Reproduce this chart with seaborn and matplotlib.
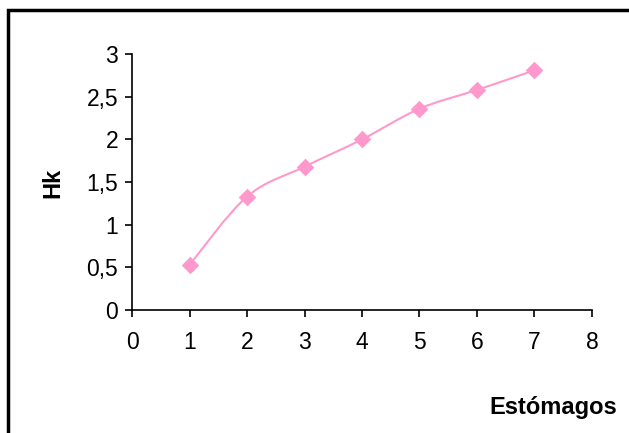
import matplotlib
matplotlib.use("Agg")
import matplotlib.pyplot as plt
from matplotlib.path import Path
from matplotlib.patches import PathPatch, Rectangle
from matplotlib.ticker import FuncFormatter
import numpy as np
import pandas as pd
import seaborn as sns

# datos
estomagos = [1, 2, 3, 4, 5, 6, 7]
hk = [0.53, 1.33, 1.68, 2.00, 2.36, 2.58, 2.81]

x_ticks = [0, 1, 2, 3, 4, 5, 6, 7, 8]
y_ticks = [0, 0.5, 1, 1.5, 2, 2.5, 3]

ROSA = "#FF99CC"

sns.set_theme(style="white")
plt.rcParams["font.family"] = ["Liberation Sans", "DejaVu Sans"]
plt.rcParams["text.color"] = "black"

df = pd.DataFrame({"Estómagos": estomagos, "Hk": hk})

fig = plt.figure(figsize=(6.29, 4.33), dpi=100)
ax = fig.add_axes([0.21, 0.284, 0.731, 0.591])

# línea suavizada (bezier tipo Excel) que pasa por los puntos
pts = np.column_stack([estomagos, hk]).astype(float)
ext = np.vstack([pts[0], pts, pts[-1]])
verts = [tuple(pts[0])]
codes = [Path.MOVETO]
for i in range(1, len(ext) - 2):
    p0, p1, p2, p3 = ext[i - 1], ext[i], ext[i + 1], ext[i + 2]
    c1 = p1 + (p2 - p0) / 6
    c2 = p2 - (p3 - p1) / 6
    verts += [tuple(c1), tuple(c2), tuple(p2)]
    codes += [Path.CURVE4] * 3
ax.add_patch(PathPatch(Path(verts, codes), fill=False, edgecolor=ROSA, lw=1.5, zorder=2))

sns.scatterplot(data=df, x="Estómagos", y="Hk", marker="D", s=80, color=ROSA,
                edgecolor=ROSA, linewidth=0, ax=ax, zorder=3)

ax.set_xlim(0, 8)
ax.set_ylim(0, 3)
ax.set_xticks(x_ticks)
ax.set_yticks(y_ticks)
ax.yaxis.set_major_formatter(FuncFormatter(lambda v, p: f"{v:g}".replace(".", ",")))
ax.tick_params(axis="both", direction="out", length=5, width=1.2, colors="black",
               labelsize=16.5, bottom=True, left=True)
ax.tick_params(axis="x", pad=10)
ax.tick_params(axis="y", pad=5)
for s in ["top", "right"]:
    ax.spines[s].set_visible(False)
for s in ["left", "bottom"]:
    ax.spines[s].set_color("black")
    ax.spines[s].set_linewidth(1.2)

ax.set_xlabel("")
ax.set_ylabel("")
fig.text(0.879, 0.06, "Estómagos", fontsize=17, fontweight="bold", ha="center", va="center")
fig.text(0.084, 0.577, "Hk", fontsize=17, fontweight="bold", rotation=90, ha="center", va="center")

# marco del área del gráfico
fig.patches.append(Rectangle((8 / 629, -0.1), 1.2, 1 - 10 / 433 + 0.1, transform=fig.transFigure,
                             fill=False, edgecolor="black", lw=2.5))

fig.savefig("out.png", dpi=100)
